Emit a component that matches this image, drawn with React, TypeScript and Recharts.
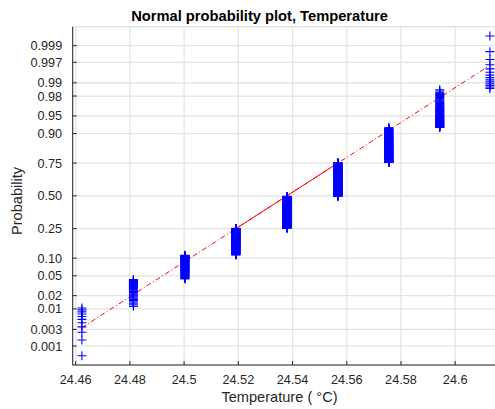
import React from 'react'
import { ComposedChart, Scatter, Line, XAxis, YAxis, CartesianGrid } from 'recharts'

// distinct temperature readings and how many samples sit at each one
const temps = [24.4623, 24.4813, 24.5003, 24.5191, 24.5379, 24.5567, 24.5755, 24.5943, 24.6128]
const counts = [11, 32, 68, 141, 244, 257, 167, 66, 14]

// probability axis ticks (drawn on the normal quantile scale)
const probTicks = [0.001, 0.003, 0.01, 0.02, 0.05, 0.1, 0.25, 0.5, 0.75, 0.9, 0.95, 0.98, 0.99, 0.997, 0.999]
const probLabels = ['0.001', '0.003', '0.01', '0.02', '0.05', '0.10', '0.25', '0.50', '0.75', '0.90', '0.95', '0.98', '0.99', '0.997', '0.999']

const tempTicks = [24.46, 24.48, 24.5, 24.52, 24.54, 24.56, 24.58, 24.6]
const tempLabels = ['24.46', '24.48', '24.5', '24.52', '24.54', '24.56', '24.58', '24.6']
const tempDomain = [24.4589, 24.6163]

const FONT = '"Liberation Sans", Arial, Helvetica, sans-serif'
const INK = '#262626'
const PLOT_LEFT = 72.7
const PLOT_BOTTOM = 365

// inverse normal cdf (Acklam)
function norminv(p: number) {
  const a = [-39.69683028665376, 220.9460984245205, -275.9285104469687, 138.357751867269, -30.66479806614716, 2.506628277459239]
  const b = [-54.47609879822406, 161.5858368580409, -155.6989798598866, 66.80131188771972, -13.28068155288572]
  const c = [-0.007784894002430293, -0.3223964580411365, -2.400758277161838, -2.549732539343734, 4.374664141464968, 2.938163982698783]
  const d = [0.007784695709041462, 0.3224671290700398, 2.445134137142996, 3.754408661907416]
  const plow = 0.02425
  if (p < plow) {
    const q = Math.sqrt(-2 * Math.log(p))
    return (((((c[0] * q + c[1]) * q + c[2]) * q + c[3]) * q + c[4]) * q + c[5]) /
      ((((d[0] * q + d[1]) * q + d[2]) * q + d[3]) * q + 1)
  }
  if (p > 1 - plow) {
    const q = Math.sqrt(-2 * Math.log(1 - p))
    return -(((((c[0] * q + c[1]) * q + c[2]) * q + c[3]) * q + c[4]) * q + c[5]) /
      ((((d[0] * q + d[1]) * q + d[2]) * q + d[3]) * q + 1)
  }
  const q = p - 0.5
  const r = q * q
  return (((((a[0] * r + a[1]) * r + a[2]) * r + a[3]) * r + a[4]) * r + a[5]) * q /
    (((((b[0] * r + b[1]) * r + b[2]) * r + b[3]) * r + b[4]) * r + 1)
}

// expand to sorted samples, plotting positions (i - 0.5) / n like normplot
const samples: number[] = []
temps.forEach((t, k) => {
  for (let j = 0; j < counts[k]; j++) samples.push(t)
})
const n = samples.length
const points = samples.map((t, i) => ({ t, z: norminv((i + 0.5) / n) }))

// reference line through the quartiles, extended to the data range
const q1 = samples[Math.floor(0.25 * n)]
const q3 = samples[Math.floor(0.75 * n)]
const z1 = norminv(0.25)
const z3 = norminv(0.75)
const zAt = (t: number) => z1 + ((t - q1) * (z3 - z1)) / (q3 - q1)
const fullLine = [{ t: samples[0], z: zAt(samples[0]) }, { t: samples[n - 1], z: zAt(samples[n - 1]) }]
const quartLine = [{ t: q1, z: z1 }, { t: q3, z: z3 }]

const zLim = norminv(0.25 / n)

const PlusMarker = (props: any) => {
  const { cx, cy } = props
  if (cx == null || cy == null) return null
  return (
    <path
      d={`M${cx - 4.5},${cy}h9M${cx},${cy - 4.5}v9`}
      stroke="#0000ff"
      strokeWidth={1.1}
      fill="none"
    />
  )
}

const YTick = (props: any) => {
  const { y, payload } = props
  const idx = probTicks.findIndex((p) => Math.abs(norminv(p) - payload.value) < 1e-9)
  return (
    <g>
      <line x1={PLOT_LEFT} x2={PLOT_LEFT + 4} y1={y} y2={y} stroke={INK} strokeWidth={1} />
      <text x={PLOT_LEFT - 10.5} y={y} dy="0.36em" textAnchor="end" fontSize={12.7} fontFamily={FONT} fill={INK}>
        {probLabels[idx]}
      </text>
    </g>
  )
}

const XTick = (props: any) => {
  const { x, payload } = props
  const idx = tempTicks.findIndex((v) => Math.abs(v - payload.value) < 1e-9)
  return (
    <g>
      <line x1={x} x2={x} y1={PLOT_BOTTOM} y2={PLOT_BOTTOM - 4} stroke={INK} strokeWidth={1} />
      <text x={x} y={383.5} textAnchor="middle" fontSize={12.7} fontFamily={FONT} fill={INK}>
        {tempLabels[idx]}
      </text>
    </g>
  )
}

export default function App() {
  return (
    <div style={{ position: 'absolute', left: 0, top: 0, width: 495, height: 409, overflow: 'hidden', background: '#fff' }}>
      <ComposedChart width={500} height={409} margin={{ top: 26.7, right: 0.6, bottom: 14, left: 0 }}>
        <CartesianGrid stroke="#e2e2e2" strokeWidth={1.2} />
        <XAxis
          type="number"
          dataKey="t"
          domain={tempDomain}
          ticks={tempTicks}
          interval={0}
          allowDataOverflow
          height={30}
          tickLine={false}
          axisLine={{ stroke: INK, strokeWidth: 1 }}
          tick={<XTick />}
        />
        <YAxis
          type="number"
          dataKey="z"
          domain={[zLim, -zLim]}
          ticks={probTicks.map(norminv)}
          interval={0}
          allowDataOverflow
          width={PLOT_LEFT}
          tickLine={false}
          axisLine={{ stroke: INK, strokeWidth: 1 }}
          tick={<YTick />}
        />
        <Scatter data={points} dataKey="z" shape={<PlusMarker />} isAnimationActive={false} />
        <Line
          data={fullLine}
          dataKey="z"
          stroke="#ff0000"
          strokeWidth={1}
          strokeDasharray="5 2.5 1 2.5"
          dot={false}
          activeDot={false}
          isAnimationActive={false}
        />
        <Line
          data={quartLine}
          dataKey="z"
          stroke="#ff0000"
          strokeWidth={1}
          dot={false}
          activeDot={false}
          isAnimationActive={false}
        />
      </ComposedChart>
      <svg width={495} height={409} style={{ position: 'absolute', left: 0, top: 0, pointerEvents: 'none' }}>
        <text x={259.6} y={20.7} textAnchor="middle" fontSize={14.7} fontWeight="bold" fontFamily={FONT} fill="#000">
          Normal probability plot, Temperature
        </text>
        <text x={279.5} y={402.3} textAnchor="middle" fontSize={14.6} fontFamily={FONT} fill={INK}>
          Temperature ( °C)
        </text>
        <text
          x={0}
          y={0}
          transform="translate(22.2 201) rotate(-90)"
          textAnchor="middle"
          fontSize={14.6}
          fontFamily={FONT}
          fill={INK}
        >
          Probability
        </text>
      </svg>
    </div>
  )
}
